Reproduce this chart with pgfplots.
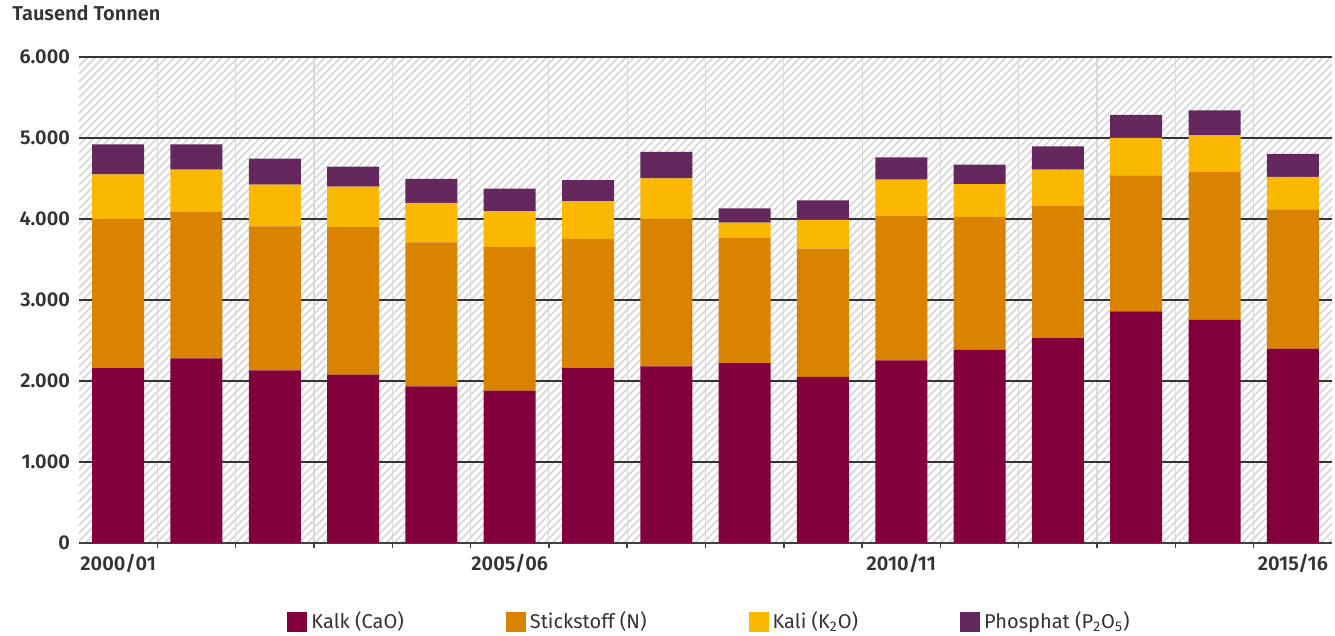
\documentclass[border=0pt]{standalone}
\usepackage{fontspec}
\setmainfont{Fira Sans}[BoldFont={Fira Sans SemiBold}]
\usepackage{pgfplots}
\usepackage{pgfplotstable}
\pgfplotsset{compat=1.18}
\usetikzlibrary{patterns.meta}

\definecolor{kalk}{HTML}{82003C}
\definecolor{stick}{HTML}{D98300}
\definecolor{kali}{HTML}{FAB800}
\definecolor{phos}{HTML}{64285F}
\definecolor{hatch}{HTML}{D8D8D8}

% Absatz von Düngemitteln in Tausend Tonnen Nährstoff
\pgfplotstableread{
x  kalk  stick  kali  phos
0  2160  1840   550   370
1  2280  1810   520   310
2  2130  1780   515   320
3  2080  1820   500   245
4  1935  1775   490   295
5  1880  1775   440   280
6  2160  1595   465   260
7  2180  1815   505   330
8  2220  1550   185   175
9  2050  1585   355   240
10 2255  1780   450   275
11 2385  1640   405   240
12 2530  1635   445   285
13 2860  1680   460   285
14 2755  1830   450   305
15 2400  1720   400   285
}\duenger

\begin{document}
\begin{tikzpicture}
\path[use as bounding box] (0,0) rectangle (667.5pt,318pt);
\begin{axis}[
  at={(39.5pt,46.5pt)}, anchor=south west,
  scale only axis, width=626.5pt, height=243pt,
  ybar stacked, bar width=26pt,
  xmin=-0.5, xmax=15.5, ymin=0, ymax=6000,
  axis background/.style={pattern={Lines[angle=45,distance=2.8pt,line width=0.9pt]}, pattern color=hatch},
  axis x line*=bottom, axis y line*=left,
  x axis line style={black!75, line width=0.7pt, -},
  y axis line style={draw=none},
  xtick={0,5,10,15},
  xticklabels={2000/01,2005/06,2010/11,2015/16},
  minor xtick={0.5,1.5,...,14.5},
  major tick length=0pt,
  minor tick length=2.5pt,
  tick align=outside,
  minor tick style={black!75, line width=0.7pt},
  xminorgrids, minor grid style={black!15, line width=0.6pt},
  ytick={0,1000,...,6000},
  ymajorgrids, major grid style={black!80, line width=0.7pt},
  /pgf/number format/.cd, assume math mode=true, use comma, 1000 sep={.},
  /pgfplots/.cd,
  ticklabel style={font=\bfseries\fontsize{10}{12}\selectfont, text=black!80},
  yticklabel style={xshift=-1pt},
  xticklabel style={yshift=-2pt},
  legend style={at={(0.504,-0.1626)}, anchor=center, draw=none, fill=none,
    legend columns=4, font=\fontsize{10}{12}\selectfont, text=black!80,
    /tikz/every even column/.append style={column sep=49pt}},
  legend image code/.code={\fill[#1] (0pt,-5pt) rectangle (10pt,5pt);},
]
\addplot[fill=kalk, draw=none] table[x=x, y=kalk] {\duenger};
\addplot[fill=stick, draw=none] table[x=x, y=stick] {\duenger};
\addplot[fill=kali, draw=none] table[x=x, y=kali] {\duenger};
\addplot[fill=phos, draw=none] table[x=x, y=phos] {\duenger};
\legend{Kalk (CaO), Stickstoff (N), Kali (K\textsubscript{2}O), Phosphat (P\textsubscript{2}O\textsubscript{5})}
\end{axis}
\node[anchor=base west, inner sep=0pt, font=\bfseries\fontsize{10}{12}\selectfont, text=black!80] at (6pt,307.5pt) {Tausend Tonnen};
\end{tikzpicture}
\end{document}
